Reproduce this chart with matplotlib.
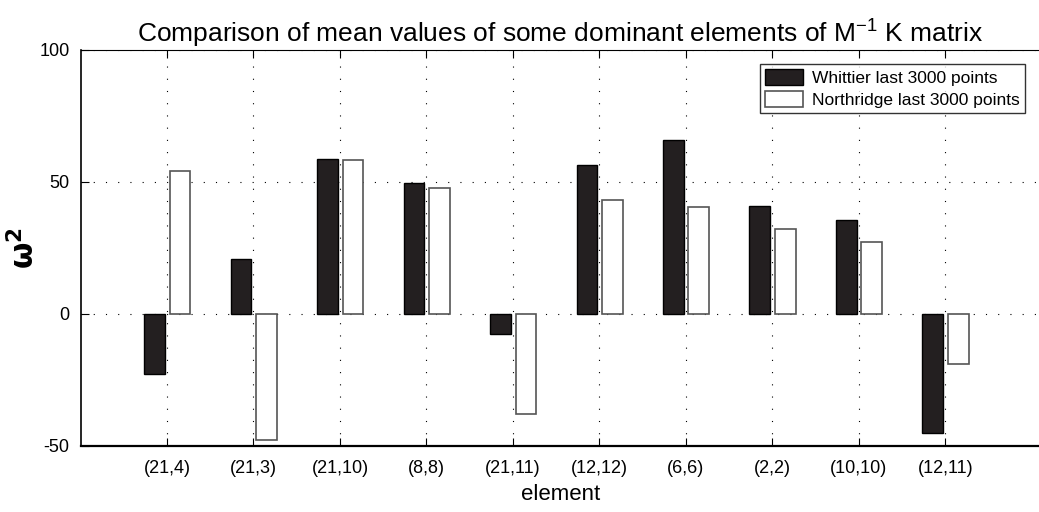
import numpy as np
import matplotlib
matplotlib.use("Agg")
import matplotlib.pyplot as plt

elementos = ["(21,4)", "(21,3)", "(21,10)", "(8,8)", "(21,11)",
             "(12,12)", "(6,6)", "(2,2)", "(10,10)", "(12,11)"]
whittier = [-22.8, 20.6, 58.8, 49.6, -7.5, 56.3, 65.9, 40.9, 35.7, -45.3]
northridge = [54.0, -47.7, 58.2, 47.8, -37.8, 43.2, 40.5, 32.2, 27.1, -19.1]
yticks = [-50, 0, 50, 100]

plt.rcParams["font.family"] = ["Liberation Sans", "DejaVu Sans"]

fig = plt.figure(figsize=(10.39, 5.12), dpi=100)
# eixo estende um pouco alem da borda direita, como na figura original
ax = fig.add_axes([80.5 / 1039, 66.3 / 512, 960 / 1039, 395.7 / 512])

x = np.arange(1, len(elementos) + 1)
larg = 0.24
ax.bar(x - 0.145, whittier, larg, color="#231f20", edgecolor="black",
       linewidth=1.0, label="Whittier last 3000 points", zorder=3)
ax.bar(x + 0.150, northridge, larg, color="white", edgecolor="#555555",
       linewidth=1.2, label="Northridge last 3000 points", zorder=3)

ax.set_xlim(0, 11.1)
ax.set_ylim(-50, 100)
ax.set_xticks(x)
ax.set_xticklabels(elementos, fontsize=13)
ax.set_yticks(yticks)
ax.set_yticklabels([str(v) for v in yticks], fontsize=13)

ax.grid(True, linestyle=(0, (1, 10)), color="black", linewidth=0.8, zorder=0)
ax.tick_params(direction="in", length=6, width=0.8, top=True, right=False)
ax.tick_params(axis="x", pad=10)
ax.tick_params(axis="y", pad=8)
ax.spines["bottom"].set_linewidth(1.6)
ax.spines["left"].set_linewidth(1.2)
ax.spines["top"].set_linewidth(0.8)

ax.set_xlabel("element", fontsize=16, labelpad=5)
ax.set_ylabel("ω$^{\\mathregular{2}}$", fontsize=22, fontweight="bold",
              family=["DejaVu Sans"])
ax.yaxis.set_label_coords(-40 / 960, 0.5)
ax.set_title(r"Comparison of mean values of some dominant elements of M$^{\mathregular{-1}}$ K matrix",
             fontsize=19, pad=6)

leg = ax.legend(loc="upper right", bbox_to_anchor=(1025 / 1039, 1 - 64 / 512),
                bbox_transform=fig.transFigure, fontsize=12.5, frameon=True,
                fancybox=False, edgecolor="black", handlelength=2.2,
                handleheight=1.0, borderpad=0.3, labelspacing=0.3,
                handletextpad=0.5, borderaxespad=0)
leg.get_frame().set_linewidth(1.0)

fig.savefig("out.png", dpi=100)
